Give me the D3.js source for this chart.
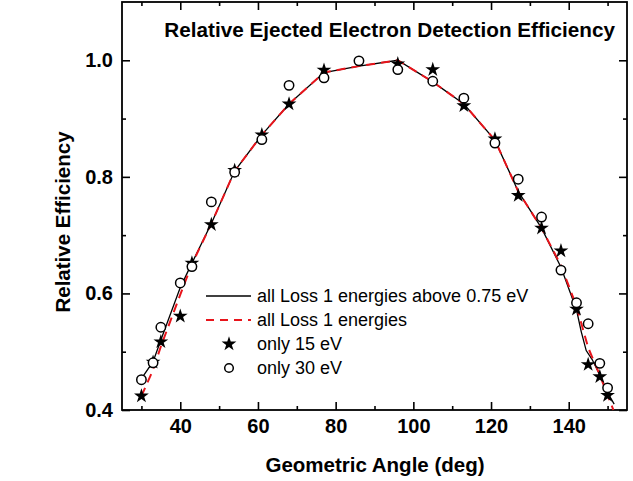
<!DOCTYPE html>
<html>
<head>
<meta charset="utf-8">
<script src="https://cdn.jsdelivr.net/npm/d3@7"></script>
<style>
  body { margin: 0; background: #fff; }
  svg { display: block; font-family: "Liberation Sans", Arial, sans-serif; }
</style>
</head>
<body>
<div class="chart"></div>
<script>
// measured points, 15 eV and 30 eV
var angles15 = [30, 33, 35, 40, 43, 48, 54, 61, 68, 77, 96, 105, 113, 121, 127, 133, 138, 142, 145, 148, 150];
var eff15 = [0.424, 0.482, 0.517, 0.561, 0.652, 0.718, 0.811, 0.872, 0.925, 0.983, 0.994, 0.984, 0.922, 0.865, 0.768, 0.712, 0.673, 0.573, 0.478, 0.457, 0.425];

var angles30 = [30, 33, 35, 40, 43, 48, 54, 61, 68, 77, 86, 96, 105, 113, 121, 127, 133, 138, 142, 145, 148, 150];
var eff30 = [0.452, 0.481, 0.542, 0.618, 0.646, 0.757, 0.808, 0.864, 0.957, 0.970, 0.999, 0.984, 0.964, 0.935, 0.858, 0.796, 0.731, 0.640, 0.584, 0.548, 0.480, 0.438];

// fitted curves
var anglesAbove = [30, 33, 35, 40, 43, 48, 54, 61, 68, 77, 86, 96, 105, 113, 121, 127, 133, 138, 142, 143.2, 144.5, 146, 148, 150, 151.7];
var effAbove = [0.454, 0.483, 0.52, 0.61, 0.652, 0.72, 0.81, 0.872, 0.925, 0.979, 0.99, 1.0, 0.963, 0.925, 0.863, 0.775, 0.712, 0.645, 0.572, 0.535, 0.502, 0.487, 0.46, 0.43, 0.41];

var anglesAll = [30, 33, 35, 40, 43, 48, 54, 61, 68, 77, 86, 96, 105, 113, 121, 127, 133, 138, 142, 145, 148, 151.5];
var effAll = [0.424, 0.469, 0.509, 0.598, 0.65, 0.72, 0.81, 0.872, 0.925, 0.979, 0.99, 1.0, 0.963, 0.925, 0.863, 0.775, 0.712, 0.648, 0.578, 0.507, 0.46, 0.40];

var xMajor = [40, 60, 80, 100, 120, 140],
    xMinor = [30, 50, 70, 90, 110, 130, 150],
    yMajor = [0.4, 0.6, 0.8, 1.0],
    yMinor = [0.5, 0.7, 0.9];

var legendLabels = ["all Loss 1 energies above 0.75 eV", "all Loss 1 energies", "only 15 eV", "only 30 eV"];

var width = 633,
    height = 481;

var plotLeft = 122, plotRight = 627, plotTop = 2, plotBottom = 410;

var svg = d3.select(".chart").append("svg")
    .attr("width", width)
    .attr("height", height);

var x = d3.scaleLinear().domain([25, 155]).range([plotLeft, plotRight]);
var y = d3.scaleLinear().domain([0.4, 1.1]).range([plotBottom, plotTop]);

function zip(a, b) {
    return a.map(function(d, i) { return [d, b[i]]; });
}

var line = d3.line()
    .x(function(d) { return x(d[0]); })
    .y(function(d) { return y(d[1]); });

// axes, ticks point inward
function styleAxis(g, labels) {
    g.select(".domain").remove();
    g.selectAll(".tick line").attr("stroke", "#000").attr("stroke-width", 1.6);
    if (labels) {
        g.selectAll(".tick text")
            .attr("fill", "#000")
            .style("font-size", "20px")
            .style("font-weight", "bold");
    } else {
        g.selectAll(".tick text").remove();
    }
}

svg.append("g").attr("transform", "translate(0," + plotBottom + ")")
    .call(d3.axisBottom(x).tickValues(xMajor).tickSize(-8).tickPadding(9).tickFormat(d3.format("d")))
    .call(styleAxis, true);
svg.append("g").attr("transform", "translate(0," + plotBottom + ")")
    .call(d3.axisBottom(x).tickValues(xMinor).tickSize(-4))
    .call(styleAxis, false);
svg.append("g").attr("transform", "translate(0," + plotTop + ")")
    .call(d3.axisTop(x).tickValues(xMajor).tickSize(-8))
    .call(styleAxis, false);
svg.append("g").attr("transform", "translate(0," + plotTop + ")")
    .call(d3.axisTop(x).tickValues(xMinor).tickSize(-4))
    .call(styleAxis, false);

svg.append("g").attr("transform", "translate(" + plotLeft + ",0)")
    .call(d3.axisLeft(y).tickValues(yMajor).tickSize(-8).tickPadding(9).tickFormat(d3.format(".1f")))
    .call(styleAxis, true);
svg.append("g").attr("transform", "translate(" + plotLeft + ",0)")
    .call(d3.axisLeft(y).tickValues(yMinor).tickSize(-4))
    .call(styleAxis, false);
svg.append("g").attr("transform", "translate(" + plotRight + ",0)")
    .call(d3.axisRight(y).tickValues(yMajor).tickSize(-8))
    .call(styleAxis, false);
svg.append("g").attr("transform", "translate(" + plotRight + ",0)")
    .call(d3.axisRight(y).tickValues(yMinor).tickSize(-4))
    .call(styleAxis, false);

svg.append("rect")
    .attr("x", plotLeft).attr("y", plotTop)
    .attr("width", plotRight - plotLeft).attr("height", plotBottom - plotTop)
    .attr("fill", "none").attr("stroke", "#000").attr("stroke-width", 1.8);

// curves (black first, red dashes drawn over it)
svg.append("path")
    .datum(zip(anglesAbove, effAbove))
    .attr("d", line)
    .attr("fill", "none")
    .attr("stroke", "#000")
    .attr("stroke-width", 1.3);

svg.append("path")
    .datum(zip(anglesAll, effAll))
    .attr("d", line)
    .attr("fill", "none")
    .attr("stroke", "#e8141b")
    .attr("stroke-width", 2)
    .attr("stroke-dasharray", "9,6");

var star = d3.symbol().type(d3.symbolStar).size(68);

svg.append("g").selectAll("path")
    .data(zip(angles15, eff15))
    .enter().append("path")
    .attr("d", star)
    .attr("transform", function(d) { return "translate(" + x(d[0]) + "," + y(d[1]) + ")"; })
    .attr("fill", "#000");

svg.append("g").selectAll("circle")
    .data(zip(angles30, eff30))
    .enter().append("circle")
    .attr("cx", function(d) { return x(d[0]); })
    .attr("cy", function(d) { return y(d[1]); })
    .attr("r", 4.7)
    .attr("fill", "#fff")
    .attr("stroke", "#000")
    .attr("stroke-width", 1.5);

// legend
var legend = svg.append("g");
var rowY = [296, 320, 344, 368];

legend.append("line")
    .attr("x1", 206).attr("x2", 251).attr("y1", rowY[0]).attr("y2", rowY[0])
    .attr("stroke", "#000").attr("stroke-width", 1.3);
legend.append("line")
    .attr("x1", 206).attr("x2", 251).attr("y1", rowY[1]).attr("y2", rowY[1])
    .attr("stroke", "#e8141b").attr("stroke-width", 2).attr("stroke-dasharray", "8,6");
legend.append("path")
    .attr("d", star)
    .attr("transform", "translate(229," + rowY[2] + ")");
legend.append("circle")
    .attr("cx", 229).attr("cy", rowY[3]).attr("r", 4.3)
    .attr("fill", "#fff").attr("stroke", "#000").attr("stroke-width", 1.5);

legend.selectAll("text")
    .data(legendLabels)
    .enter().append("text")
    .attr("x", 257)
    .attr("y", function(d, i) { return rowY[i]; })
    .attr("dy", "0.35em")
    .style("font-size", "18px")
    .text(function(d) { return d; });

// titles
svg.append("text")
    .attr("x", 615).attr("y", 37)
    .attr("text-anchor", "end")
    .style("font-size", "20.7px")
    .style("font-weight", "bold")
    .text("Relative Ejected Electron Detection Efficiency");

svg.append("text")
    .attr("x", 375).attr("y", 472)
    .attr("text-anchor", "middle")
    .style("font-size", "20.5px")
    .style("font-weight", "bold")
    .text("Geometric Angle (deg)");

svg.append("text")
    .attr("transform", "translate(70,222) rotate(-90)")
    .attr("text-anchor", "middle")
    .style("font-size", "20.5px")
    .style("font-weight", "bold")
    .text("Relative Efficiency");
</script>
</body>
</html>
